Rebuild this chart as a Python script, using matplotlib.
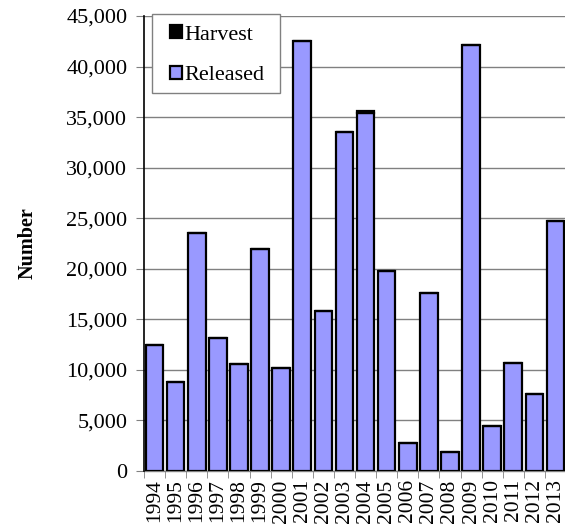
import matplotlib.pyplot as plt
import numpy as np
from matplotlib.patches import Rectangle
from matplotlib.ticker import FuncFormatter

plt.rcParams['font.family'] = ['Liberation Serif', 'DejaVu Serif']

years = ['1994', '1995', '1996', '1997', '1998', '1999', '2000', '2001', '2002', '2003',
         '2004', '2005', '2006', '2007', '2008', '2009', '2010', '2011', '2012', '2013']
released = [12450, 8850, 23550, 13150, 10600, 21950, 10150, 42500, 15850, 33550,
            35400, 19750, 2750, 17650, 1850, 42150, 4500, 10650, 7650, 24750]
harvest = [0, 0, 0, 0, 0, 0, 0, 0, 0, 0,
           250, 0, 0, 0, 0, 0, 0, 0, 0, 0]

W, H = 565, 529
fig = plt.figure(figsize=(W / 100, H / 100), dpi=100)
ax = fig.add_axes([144 / W, 1 - 471 / H, 422 / W, 455 / H])

x = np.arange(len(years))
bar_w = 0.83
ax.bar(x, released, width=bar_w, color='#9999FF', edgecolor='black', linewidth=1.6,
       label='Released', zorder=3)
ax.bar(x, harvest, width=bar_w, bottom=released, color='black', edgecolor='black',
       linewidth=1.6, label='Harvest', zorder=3)

ax.set_xlim(-0.5, len(years) - 0.5)
ax.set_ylim(0, 45000)
ax.set_yticks(np.arange(0, 45001, 5000))
ax.yaxis.set_major_formatter(FuncFormatter(lambda v, p: f'{int(v):,}'))
ax.set_xticks(x)
ax.set_xticklabels(years, rotation=90)
ax.set_xticks(np.arange(-0.5, len(years), 1), minor=True)
ax.tick_params(axis='x', which='major', length=0, pad=6, labelsize=15.5)
ax.tick_params(axis='x', which='minor', length=5, color='#808080', direction='out')
ax.tick_params(axis='y', length=6, color='#808080', direction='out', labelsize=16, pad=6)

ax.grid(axis='y', color='#808080', linewidth=1, zorder=0)
ax.set_axisbelow(True)
for side in ['top', 'right']:
    ax.spines[side].set_visible(False)
ax.spines['left'].set_color('black')
ax.spines['left'].set_linewidth(1.2)
ax.spines['left'].set_zorder(4)
ax.spines['bottom'].set_color('#808080')
ax.spines['bottom'].set_linewidth(1)

ax.set_ylabel('Number', fontsize=14.5, fontweight='bold')
ax.yaxis.set_label_coords(-(144 - 38) / 422, 0.5)

# legend box drawn separately so the padding can be wider than tall
fig.patches.append(Rectangle((152 / W, 1 - 93 / H), 128 / W, 79 / H,
                             transform=fig.transFigure, facecolor='white',
                             edgecolor='#808080', linewidth=1, zorder=5))
handles, labels = ax.get_legend_handles_labels()
leg = fig.legend(handles[::-1], labels[::-1], loc='upper left',
                 bbox_to_anchor=(170 / W, 1 - 25 / H), fontsize=16, frameon=False,
                 handlelength=0.55, handleheight=0.55, handletextpad=0.1,
                 labelspacing=0.95, borderpad=0, borderaxespad=0)
leg.set_zorder(6)

fig.savefig('out.png', dpi=100)
